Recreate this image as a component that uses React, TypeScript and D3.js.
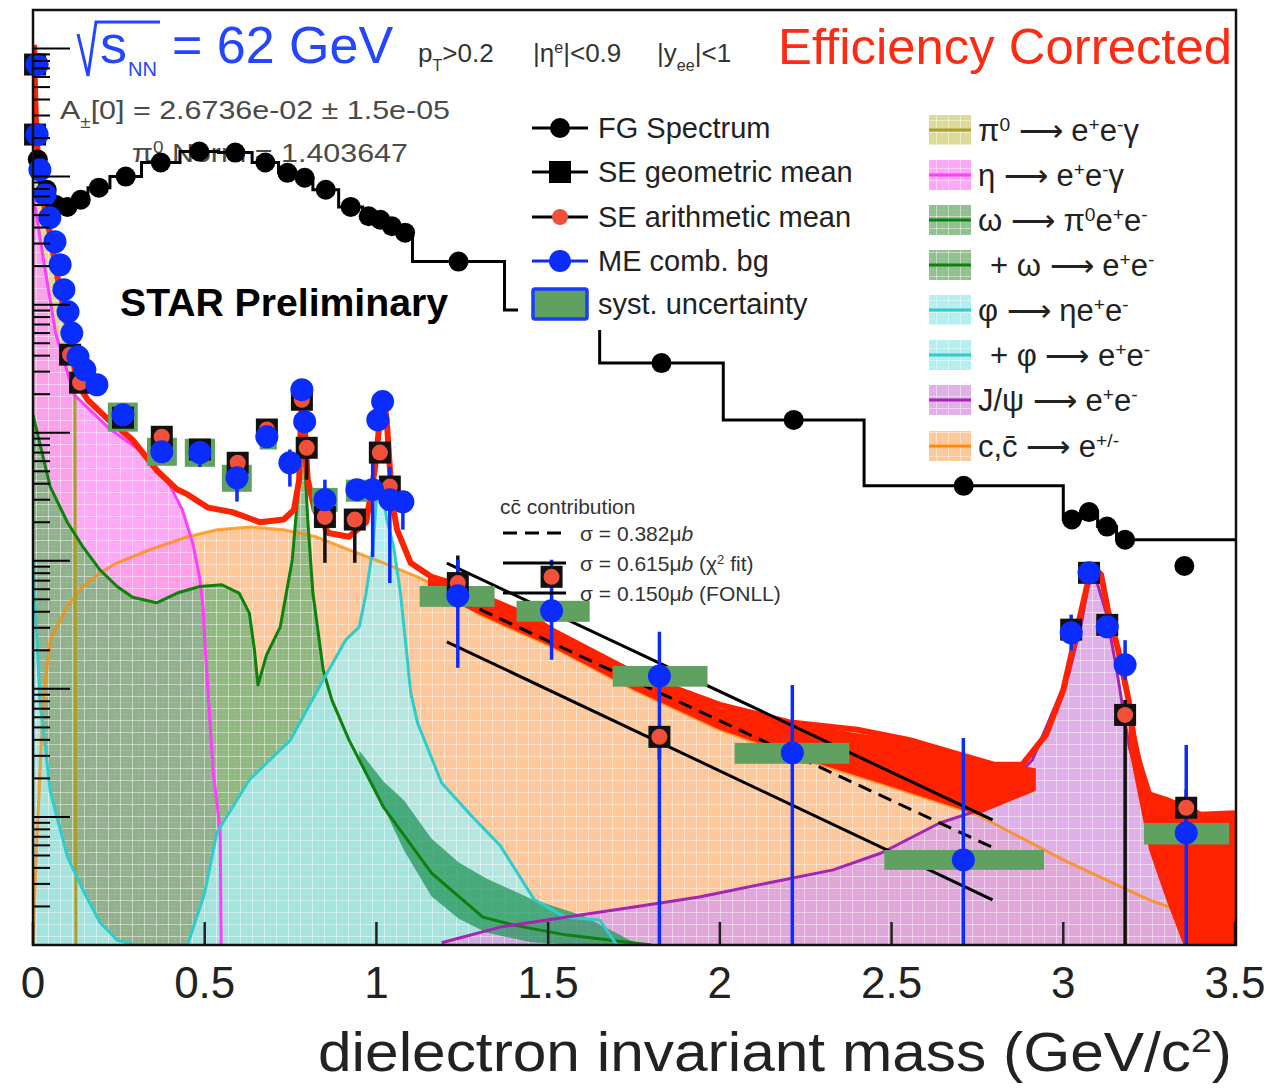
import React from 'react';
import * as d3 from 'd3';

const W = 1272;
const H = 1089;
const FONT = "'Liberation Sans', Arial, Helvetica, sans-serif";
const YMIN = 1e-8;

// ---------- data (mass in GeV/c^2, yield in arbitrary units) ----------
const fgEdges = [0, 0.028, 0.052, 0.082, 0.118, 0.16, 0.224, 0.316, 0.428, 0.54, 0.638, 0.715, 0.767, 0.815, 0.89, 0.96, 0.995, 1.028, 1.062, 1.105, 1.373, 1.65, 2.01, 2.42, 3.0, 3.05, 3.1, 3.155, 3.205, 3.5];
const fgValues = [1.36e-2, 7.9e-3, 6.0e-3, 5.8e-3, 6.6e-3, 8.2e-3, 1.0e-2, 1.29e-2, 1.57e-2, 1.54e-2, 1.29e-2, 1.07e-2, 9.8e-3, 7.9e-3, 5.8e-3, 4.9e-3, 4.6e-3, 4.1e-3, 3.65e-3, 2.17e-3, 9.1e-4, 3.5e-4, 1.26e-4, 3.85e-5, 2.1e-5, 2.4e-5, 1.85e-5, 1.46e-5, 1.46e-5];
const fgMarkers = [1.36e-2, 7.9e-3, 6.0e-3, 5.8e-3, 6.6e-3, 8.2e-3, 1.0e-2, 1.29e-2, 1.57e-2, 1.54e-2, 1.29e-2, 1.07e-2, 9.8e-3, 7.9e-3, 5.8e-3, 4.9e-3, 4.6e-3, 4.1e-3, 3.65e-3, 2.17e-3, 9.1e-4, 3.5e-4, 1.26e-4, 3.85e-5, 2.1e-5, 2.4e-5, 1.85e-5, 1.46e-5, 9.1e-6];

const totalX = [0.003, 0.008, 0.015, 0.03, 0.05, 0.07, 0.09, 0.11, 0.13, 0.16, 0.22, 0.29, 0.36, 0.42, 0.45, 0.51, 0.58, 0.62, 0.66, 0.73, 0.76, 0.775, 0.78, 0.785, 0.79, 0.8, 0.82, 0.86, 0.92, 0.97, 0.995, 1.01, 1.02, 1.03, 1.045, 1.06, 1.1, 1.16, 1.22, 1.3, 1.45, 1.6, 1.8, 2.0, 2.2, 2.4, 2.55, 2.7, 2.8, 2.88, 2.95, 3.0, 3.04, 3.07, 3.09, 3.11, 3.13, 3.16, 3.19, 3.21, 3.25, 3.3, 3.4, 3.5];
const totalY = [1.07e-1, 2.8e-2, 1.24e-2, 6.6e-3, 3.5e-3, 1.72e-3, 9.1e-4, 4.9e-4, 2.4e-4, 1.8e-4, 1.26e-4, 8.8e-5, 5.1e-5, 3.6e-5, 3.3e-5, 2.6e-5, 2.4e-5, 2.2e-5, 2.0e-5, 2.1e-5, 2.5e-5, 4.3e-5, 1.26e-4, 2.05e-4, 1.26e-4, 4.3e-5, 2.5e-5, 1.65e-5, 1.54e-5, 2.0e-5, 5.1e-5, 1.26e-4, 1.98e-4, 1.26e-4, 3.0e-5, 1.75e-5, 9.6e-6, 7.5e-6, 6.7e-6, 5.4e-6, 3.65e-6, 2.0e-6, 1.18e-6, 7.5e-7, 5.5e-7, 4.8e-7, 4.0e-7, 3.05e-7, 2.55e-7, 2.55e-7, 4.4e-7, 9.8e-7, 2.9e-6, 6.5e-6, 8.8e-6, 7.8e-6, 4.1e-6, 2.0e-6, 8.2e-7, 3.3e-7, 1.5e-7, 1.36e-7, 1.04e-7, 1.07e-7];

// noisy red band of the total at high mass
const bandAX = [1.15, 1.3, 1.5, 1.75, 2.0, 2.25, 2.5, 2.75, 2.92];
const bandAHi = [7.8e-6, 5.4e-6, 3.16e-6, 1.41e-6, 7.1e-7, 5.2e-7, 4.1e-7, 2.8e-7, 2.4e-7];
const bandALo = [6.0e-6, 3.8e-6, 2.2e-6, 9.8e-7, 4.8e-7, 2.8e-7, 1.72e-7, 1.04e-7, 1.6e-7];
const bandBX = [3.19, 3.25, 3.3, 3.35, 3.42, 3.5];
const bandBHi = [8.2e-7, 1.5e-7, 1.36e-7, 1.24e-7, 1.04e-7, 1.07e-7];
const bandBLo = [3.5e-7, 5.5e-8, 2.25e-8, 1e-8, 1e-8, 1e-8];

const pi0X = [0.003, 0.02, 0.04, 0.06, 0.08, 0.1, 0.112, 0.122, 0.125];
const pi0Y = [8.2e-2, 1.13e-2, 4.78e-3, 2.33e-3, 1.2e-3, 6.4e-4, 3.9e-4, 2.4e-4, 1e-8];

const etaX = [0.003, 0.035, 0.066, 0.12, 0.22, 0.32, 0.39, 0.435, 0.465, 0.485, 0.495, 0.5, 0.525, 0.545, 0.548];
const etaY = [6.6e-3, 1.9e-3, 6.0e-4, 1.98e-4, 1.09e-4, 7.0e-5, 4.3e-5, 2.5e-5, 1.38e-5, 7.5e-6, 4.4e-6, 2.4e-6, 2.2e-7, 7.9e-8, 1e-8];

const omegaX = [0.0, 0.05, 0.1, 0.145, 0.195, 0.245, 0.29, 0.36, 0.42, 0.485, 0.55, 0.6, 0.63, 0.645, 0.655, 0.68, 0.72, 0.755, 0.77, 0.78, 0.785, 0.79, 0.8, 0.815, 0.845, 0.87, 0.92, 1.02, 1.16, 1.31, 1.4, 1.55, 1.8];
const omegaY = [1.38e-4, 3.8e-5, 2.0e-5, 1.29e-5, 8.5e-6, 6.3e-6, 5.2e-6, 4.7e-6, 5.6e-6, 6.3e-6, 6.5e-6, 5.6e-6, 3.9e-6, 2.0e-6, 1.07e-6, 1.84e-6, 3.05e-6, 1.02e-5, 3.0e-5, 6.7e-5, 8.1e-5, 6.7e-5, 2.1e-5, 5.6e-6, 1.41e-6, 8.2e-7, 4.0e-7, 1.2e-7, 3.65e-8, 1.65e-8, 1.43e-8, 1.2e-8, 1e-8];
// statistical scatter of the omega histogram tail
const omegaNoiseX = [0.95, 1.02, 1.08, 1.16, 1.24, 1.32, 1.45, 1.6, 1.75];
const omegaNoiseHi = [3.3e-7, 1.9e-7, 1.35e-7, 6.8e-8, 4.4e-8, 3.3e-8, 2.3e-8, 1.7e-8, 1.05e-8];
const omegaNoiseLo = [2.79e-7, 1.2e-7, 5.5e-8, 2.4e-8, 1.6e-8, 1.25e-8, 1.05e-8, 1e-8, 1e-8];

const phiX = [0.0, 0.02, 0.05, 0.1, 0.145, 0.195, 0.245, 0.3, 0.45, 0.5, 0.535, 0.63, 0.75, 0.84, 0.91, 0.95, 0.97, 0.99, 1.0, 1.01, 1.02, 1.03, 1.05, 1.07, 1.1, 1.12, 1.19, 1.28, 1.36, 1.46, 1.55, 1.65, 1.7];
const phiY = [1.02e-5, 8.2e-7, 1.6e-7, 4.9e-8, 2.7e-8, 1.5e-8, 1.09e-8, 1e-8, 1e-8, 2.55e-8, 7.5e-8, 1.95e-7, 4.0e-7, 1.11e-6, 2.4e-6, 3.05e-6, 5.6e-6, 1.29e-5, 3.0e-5, 3.5e-5, 3.3e-5, 2.1e-5, 1.29e-5, 5.6e-6, 9.3e-7, 5.4e-7, 1.84e-7, 1.0e-7, 6.0e-8, 2.25e-8, 1.65e-8, 1.57e-8, 1e-8];

const jpsiX = [1.19, 1.36, 1.55, 1.75, 1.94, 2.14, 2.33, 2.47, 2.64, 2.755, 2.834, 2.91, 2.968, 3.017, 3.055, 3.075, 3.09, 3.125, 3.154, 3.192, 3.221, 3.279, 3.337, 3.375, 3.38];
const jpsiY = [1.04e-8, 1.38e-8, 1.65e-8, 1.98e-8, 2.37e-8, 3.05e-8, 3.86e-8, 5.23e-8, 8.97e-8, 1.13e-7, 1.72e-7, 2.79e-7, 6.49e-7, 1.33e-6, 3.46e-6, 7.1e-6, 8.06e-6, 3.9e-6, 1.49e-6, 3.52e-7, 1.95e-7, 5.8e-8, 2.37e-8, 1.04e-8, 1e-8];

const ccX = [0.0, 0.01, 0.03, 0.05, 0.1, 0.145, 0.195, 0.245, 0.34, 0.45, 0.535, 0.63, 0.73, 0.825, 0.92, 1.02, 1.12, 1.2, 1.3, 1.5, 1.75, 2.0, 2.25, 2.5, 2.75, 3.0, 3.25, 3.5];
const ccY = [1e-8, 5.5e-8, 8.2e-7, 2.4e-6, 4.4e-6, 6.3e-6, 8.06e-6, 9.65e-6, 1.22e-5, 1.54e-5, 1.75e-5, 1.84e-5, 1.75e-5, 1.54e-5, 1.22e-5, 9.65e-6, 7.5e-6, 5.9e-6, 3.8e-6, 2.21e-6, 9.8e-7, 4.78e-7, 2.79e-7, 1.72e-7, 1.04e-7, 4.62e-8, 2.25e-8, 1.31e-8];

// c-cbar contribution lines
const ccLineX = [1.205, 2.794];
const ccDashX = [1.242, 2.793];
const ccFit = [9.6e-6, 9.5e-8];
const ccMid = [4.95e-6, 5.8e-8];
const ccFonll = [2.33e-6, 2.25e-8];

// ME combinatorial background points (0 = no error bar)
const meX = [0.012, 0.012, 0.02, 0.035, 0.049, 0.064, 0.079, 0.09, 0.102, 0.113, 0.131, 0.151, 0.186, 0.262, 0.375, 0.486, 0.594, 0.681, 0.748, 0.783, 0.791, 0.85, 0.943, 0.989, 1.004, 1.018, 1.039, 1.077, 1.237, 1.51, 1.824, 2.211, 2.709, 3.023, 3.075, 3.128, 3.18, 3.358];
const meY = [7.5e-2, 2.13e-2, 1.13e-2, 7.24e-3, 4.78e-3, 3.1e-3, 2.05e-3, 1.31e-3, 8.8e-4, 6.0e-4, 3.92e-4, 3.1e-4, 2.37e-4, 1.38e-4, 7.1e-5, 7.0e-5, 4.45e-5, 9.3e-5, 5.83e-5, 2.17e-4, 1.22e-4, 3.0e-5, 3.59e-5, 3.59e-5, 1.26e-4, 1.75e-4, 3.0e-5, 2.89e-5, 5.33e-6, 4.07e-6, 1.26e-6, 3.16e-7, 4.62e-8, 2.74e-6, 8.06e-6, 3.05e-6, 1.54e-6, 7.5e-8];
const meErrHi = [0, 0, 0, 0, 0, 0, 0, 0, 0, 0, 0, 0, 0, 0, 0, 8.4e-5, 6.5e-5, 0, 7.4e-5, 0, 0, 4.3e-5, 0, 6.15e-5, 0, 0, 5.42e-5, 3.39e-5, 1.02e-5, 1.02e-5, 2.79e-6, 1.07e-6, 4.14e-7, 3.8e-6, 0, 0, 2.4e-6, 3.65e-7];
const meErrLo = [0, 0, 0, 0, 0, 0, 0, 0, 0, 0, 0, 0, 0, 0, 0, 5.4e-5, 2.9e-5, 0, 3.8e-5, 0, 0, 1.84e-5, 0, 1.07e-5, 0, 0, 6.7e-6, 1.75e-5, 1.46e-6, 1.69e-6, 1e-8, 1e-8, 1e-8, 2.0e-6, 0, 0, 1.18e-6, 1e-8];

// systematic boxes
const sysX0 = [0.218, 0.332, 0.442, 0.55, 0.66, 0.812, 0.911, 1.126, 1.408, 1.688, 2.043, 2.479, 3.235];
const sysX1 = [0.305, 0.419, 0.53, 0.637, 0.71, 0.887, 0.975, 1.344, 1.621, 1.964, 2.377, 2.944, 3.483];
const sysHi = [1.72e-4, 9.14e-5, 8.97e-5, 5.62e-5, 1.2e-4, 3.71e-5, 4.3e-5, 6.36e-6, 4.87e-6, 1.51e-6, 3.79e-7, 5.52e-8, 8.97e-8];
const sysLo = [1.02e-4, 5.52e-5, 5.42e-5, 3.46e-5, 7.4e-5, 2.41e-5, 2.89e-5, 4.37e-6, 3.34e-6, 1.04e-6, 2.6e-7, 3.86e-8, 6.1e-8];

// same-event points (geometric squares, arithmetic dots)
const seX = [0.006, 0.006, 0.108, 0.137, 0.262, 0.375, 0.486, 0.596, 0.681, 0.783, 0.797, 0.85, 0.937, 1.01, 1.039, 1.237, 1.51, 1.824, 3.023, 3.075, 3.128, 3.18, 3.358];
const seY = [7.5e-2, 2.13e-2, 4.07e-4, 2.46e-4, 1.31e-4, 9.3e-5, 7.4e-5, 5.83e-5, 1.06e-4, 1.81e-4, 7.63e-5, 2.2e-5, 2.1e-5, 7.0e-5, 3.8e-5, 6.7e-6, 7.5e-6, 4.22e-7, 2.9e-6, 8.06e-6, 3.16e-6, 6.26e-7, 1.18e-7];
const seErrHi = [0, 0, 0, 0, 0, 0, 0, 0, 0, 0, 8.8e-5, 3.0e-5, 2.1e-5, 0, 0, 1.1e-5, 0, 5.2e-7, 0, 0, 0, 8.2e-7, 1.63e-7];
const seErrLo = [0, 0, 0, 0, 0, 0, 0, 0, 0, 0, 4.3e-5, 9.65e-6, 9.65e-6, 0, 0, 5.0e-6, 0, 2.8e-7, 0, 0, 0, 1e-8, 7.9e-8];

const xTicks = [0, 0.5, 1, 1.5, 2, 2.5, 3, 3.5];
const xTickLabels = ['0', '0.5', '1', '1.5', '2', '2.5', '3', '3.5'];

const legend1Labels = ['FG Spectrum', 'SE geometric mean', 'SE arithmetic mean', 'ME comb. bg', 'syst. uncertainty'];

const BLUE = '#0a2cff';
const RED = '#ff2200';
const ARROW = '⟶';

const Sup = ({ t }: { t: string }) => (
  <tspan baselineShift="super" fontSize="62%">{t}</tspan>
);
const Sub = ({ t }: { t: string }) => (
  <tspan baselineShift="sub" fontSize="62%">{t}</tspan>
);

export default function App() {
  const x = d3.scaleLinear().domain([0, 3.5]).range([33, 1235]);
  const y = d3.scaleLog().domain([YMIN, 0.2]).range([945, 10]);
  const yv = (v: number) => y(Math.max(v, YMIN));
  const X0 = x(0), X1 = x(3.5) + 1, YB = y(YMIN), YT = y(0.2);

  const line = (xs: number[], ys: number[]) =>
    d3.line<number>().x((_, i) => x(xs[i])).y((v) => yv(v))(ys) || '';
  const area = (xs: number[], ys: number[]) =>
    d3.area<number>().x((_, i) => x(xs[i])).y0(YB).y1((v) => yv(v))(ys) || '';
  const band = (xs: number[], hi: number[], lo: number[]) =>
    d3.area<number>().x((_, i) => x(xs[i])).y0((_, i) => yv(lo[i])).y1((v) => yv(v))(hi) || '';

  // drawing order: back to front
  const comps = [
    { id: 'cc', xs: ccX, ys: ccY, fill: '#ffbd85', stroke: '#ff8a00', op: 0.75 },
    { id: 'pi0', xs: pi0X, ys: pi0Y, fill: '#d6d484', stroke: '#a8a02a', op: 1 },
    { id: 'eta', xs: etaX, ys: etaY, fill: '#ff96f7', stroke: '#ff3cff', op: 1 },
    { id: 'omega', xs: omegaX, ys: omegaY, fill: '#7db57b', stroke: '#0e800e', op: 1 },
    { id: 'phi', xs: phiX, ys: phiY, fill: '#a6ecec', stroke: '#2fcccc', op: 1 },
    { id: 'jpsi', xs: jpsiX, ys: jpsiY, fill: '#daa0e4', stroke: '#a424b4', op: 1 },
  ];
  const legend2 = [
    { c: 'pi0', label: <>π<Sup t="0" /> {ARROW} e<Sup t="+" />e<Sup t="-" />γ</>, dx: 0 },
    { c: 'eta', label: <>η {ARROW} e<Sup t="+" />e<Sup t="-" />γ</>, dx: 0 },
    { c: 'omega', label: <>ω {ARROW} π<Sup t="0" />e<Sup t="+" />e<Sup t="-" /></>, dx: 0 },
    { c: 'omega', label: <>+ ω {ARROW} e<Sup t="+" />e<Sup t="-" /></>, dx: 12 },
    { c: 'phi', label: <>φ {ARROW} ηe<Sup t="+" />e<Sup t="-" /></>, dx: 0 },
    { c: 'phi', label: <>+ φ {ARROW} e<Sup t="+" />e<Sup t="-" /></>, dx: 12 },
    { c: 'jpsi', label: <>J/ψ {ARROW} e<Sup t="+" />e<Sup t="-" /></>, dx: 0 },
    { c: 'cc', label: <>c,c̄ {ARROW} e<Sup t="+/-" /></>, dx: 0 },
  ];
  const compById = (id: string) => comps.find((c) => c.id === id)!;

  // FG histogram step line
  let fgPath = '';
  fgValues.forEach((v, i) => {
    const yy = yv(v);
    fgPath += (i === 0 ? `M${x(fgEdges[i])},${yy}` : `V${yy}`) + `H${x(fgEdges[i + 1])}`;
  });

  const majors = d3.range(-8, 0).map((k) => Math.pow(10, k));
  const minors: number[] = [];
  majors.forEach((m) => {
    for (let j = 2; j <= 9; j++) if (m * j <= 0.2) minors.push(m * j);
  });

  const leg1Y = [128, 172, 217, 261, 304];
  const leg2Y = [130, 175, 220, 265, 310, 355, 400, 446];

  return (
    <svg width={W} height={H} style={{ position: 'absolute', left: 0, top: 0, background: '#fff' }} fontFamily={FONT}>
      <defs>
        <clipPath id="plot">
          <rect x={X0} y={YT} width={X1 - X0} height={YB - YT} />
        </clipPath>
        {comps.map((c) => (
          <pattern key={c.id} id={'pat-' + c.id} width={12} height={12} patternUnits="userSpaceOnUse">
            <rect width={12} height={12} fill={c.fill} />
            <path d="M0,0.5H12M0.5,0V12" stroke="#fff" strokeOpacity={0.45} strokeWidth={1} />
            <path d="M0,6.5H12M6.5,0V12" stroke="#fff" strokeOpacity={0.2} strokeWidth={1} strokeDasharray="1 2" />
          </pattern>
        ))}
      </defs>
      <rect x={0} y={0} width={W} height={H} fill="#fff" />

      {/* fit info text under the data */}
      <text x={60} y={119} fontSize={26} fill="#4a4a4a" textLength={390} lengthAdjust="spacingAndGlyphs">
        A<Sub t="±" />[0] = 2.6736e-02 ± 1.5e-05
      </text>
      <text x={132} y={162} fontSize={26} fill="#4a4a4a" textLength={276} lengthAdjust="spacingAndGlyphs">
        π<Sup t="0" /> Norm = 1.403647
      </text>

      <g clipPath="url(#plot)">
        {comps.map((c) => (
          <path key={c.id} d={area(c.xs, c.ys)} fill={`url(#pat-${c.id})`} fillOpacity={0.85} />
        ))}
        <path d={band(omegaNoiseX, omegaNoiseHi, omegaNoiseLo)} fill="#23955a" fillOpacity={0.75} />
        {comps.map((c) => (
          <path key={c.id} d={line(c.xs, c.ys)} fill="none" stroke={c.stroke} strokeWidth={3} strokeOpacity={c.op} strokeLinejoin="round" />
        ))}
        <path d={band(bandAX, bandAHi, bandALo)} fill={RED} />
        <path d={band(bandBX, bandBHi, bandBLo)} fill={RED} />
        <path d={line(totalX, totalY)} fill="none" stroke={RED} strokeWidth={6} strokeLinejoin="round" />
        <path d={line(ccLineX, ccFit)} stroke="#000" strokeWidth={3} fill="none" />
        <path d={line(ccDashX, ccMid)} stroke="#000" strokeWidth={3} fill="none" strokeDasharray="14 8" />
        <path d={line(ccLineX, ccFonll)} stroke="#000" strokeWidth={3} fill="none" />
      </g>

      {/* systematic boxes */}
      {sysX0.map((x0, i) => (
        <rect key={i} x={x(x0)} y={yv(sysHi[i])} width={x(sysX1[i]) - x(x0)} height={yv(sysLo[i]) - yv(sysHi[i])} fill="#60a060" />
      ))}

      {/* FG spectrum */}
      <path d={fgPath} fill="none" stroke="#000" strokeWidth={3} />
      {fgMarkers.map((v, i) => (
        <circle key={i} cx={x((fgEdges[i] + fgEdges[i + 1]) / 2)} cy={yv(v)} r={10} fill="#000" />
      ))}

      {/* error bars */}
      {seX.map((sx, i) =>
        seErrHi[i] > 0 ? (
          <line key={i} x1={x(sx)} x2={x(sx)} y1={yv(seErrHi[i])} y2={yv(seErrLo[i])} stroke="#111" strokeWidth={3.5} />
        ) : null
      )}
      {meX.map((mx, i) =>
        meErrHi[i] > 0 ? (
          <line key={i} x1={x(mx)} x2={x(mx)} y1={yv(meErrHi[i])} y2={yv(meErrLo[i])} stroke={BLUE} strokeWidth={3.5} />
        ) : null
      )}

      {/* SE markers */}
      {seX.map((sx, i) => (
        <rect key={i} x={x(sx) - 11} y={yv(seY[i]) - 11} width={22} height={22} fill="#111" />
      ))}
      {seX.map((sx, i) => (
        <circle key={i} cx={x(sx)} cy={yv(seY[i])} r={8} fill="#f2503a" />
      ))}
      {/* ME markers */}
      {meX.map((mx, i) => (
        <circle key={i} cx={x(mx)} cy={yv(meY[i])} r={11.5} fill={BLUE} />
      ))}

      {/* legend 1 */}
      <rect x={518} y={105} width={387} height={225} fill="#fff" />
      {legend1Labels.map((lab, i) => {
        const cy = leg1Y[i];
        return (
          <g key={lab}>
            {i < 4 && <line x1={532} x2={588} y1={cy} y2={cy} stroke={i === 3 ? BLUE : '#000'} strokeWidth={3} />}
            {i === 0 && <circle cx={560} cy={cy} r={10} fill="#000" />}
            {i === 1 && <rect x={549} y={cy - 11} width={22} height={22} fill="#000" />}
            {i === 2 && <circle cx={560} cy={cy} r={8} fill="#f2503a" />}
            {i === 3 && <circle cx={560} cy={cy} r={11} fill={BLUE} />}
            {i === 4 && <rect x={533} y={cy - 15} width={54} height={30} fill="#60a060" stroke="#1a3cff" strokeWidth={3.5} rx={2} />}
            <text x={598} y={cy + 10} fontSize={29} fill="#222">{lab}</text>
          </g>
        );
      })}

      {/* legend 2 */}
      <rect x={915} y={108} width={321} height={362} fill="#fff" />
      {legend2.map((e, i) => {
        const c = compById(e.c);
        const cy = leg2Y[i];
        return (
          <g key={i}>
            <rect x={929} y={cy - 15} width={42} height={30} fill={`url(#pat-${c.id})`} fillOpacity={0.85} />
            <line x1={929} x2={971} y1={cy} y2={cy} stroke={c.stroke} strokeWidth={3} />
            <text x={978 + e.dx} y={cy + 11} fontSize={31} fill="#222">{e.label}</text>
          </g>
        );
      })}

      {/* c-cbar legend */}
      <text x={500} y={514} fontSize={21} fill="#333">cc̄ contribution</text>
      <line x1={503} x2={566} y1={533} y2={533} stroke="#000" strokeWidth={3} strokeDasharray="14 8" />
      <line x1={503} x2={566} y1={563} y2={563} stroke="#000" strokeWidth={3} />
      <line x1={503} x2={566} y1={593} y2={593} stroke="#000" strokeWidth={3} />
      <text x={580} y={541} fontSize={21} fill="#333">σ = 0.382μ<tspan fontStyle="italic">b</tspan></text>
      <text x={580} y={571} fontSize={21} fill="#333">σ = 0.615μ<tspan fontStyle="italic">b</tspan> (χ<Sup t="2" /> fit)</text>
      <text x={580} y={601} fontSize={21} fill="#333">σ = 0.150μ<tspan fontStyle="italic">b</tspan> (FONLL)</text>

      {/* headline texts */}
      <path d="M78,34 L88,76 L96,22 L160,22" fill="none" stroke="#2446ff" strokeWidth={3} />
      <text x={100} y={63} fontSize={54} fill="#2446ff">s</text>
      <text x={128} y={76} fontSize={20} fill="#2446ff">NN</text>
      <text x={172} y={63} fontSize={52} fill="#2446ff">= 62 GeV</text>
      <text x={418} y={62} fontSize={26} fill="#333">p<Sub t="T" />&gt;0.2</text>
      <text x={533} y={62} fontSize={26} fill="#333">|η<Sup t="e" />|&lt;0.9</text>
      <text x={657} y={62} fontSize={26} fill="#333">|y<Sub t="ee" />|&lt;1</text>
      <text x={778} y={64} fontSize={50} fill="#ff2a12" textLength={454} lengthAdjust="spacingAndGlyphs">Efficiency Corrected</text>
      <text x={120} y={316} fontSize={38} fontWeight="bold" fill="#000" textLength={328} lengthAdjust="spacingAndGlyphs">STAR Preliminary</text>

      {/* axes */}
      {majors.map((m) => (
        <line key={'M' + m} x1={X0} x2={X0 + 37} y1={y(m)} y2={y(m)} stroke="#000" strokeWidth={2} />
      ))}
      {minors.map((m) => (
        <line key={'m' + m} x1={X0} x2={X0 + 17} y1={y(m)} y2={y(m)} stroke="#000" strokeWidth={2} />
      ))}
      {xTicks.map((t, i) => (
        <g key={t}>
          <line x1={x(t)} x2={x(t)} y1={YB} y2={YB - 23} stroke="#222" strokeWidth={2.5} />
          <text x={x(t)} y={998} fontSize={44} fill="#222" textAnchor="middle">{xTickLabels[i]}</text>
        </g>
      ))}
      <rect x={X0} y={YT} width={X1 - X0} height={YB - YT} fill="none" stroke="#111" strokeWidth={2.5} />
      <text x={318} y={1071} fontSize={55} fill="#222" textLength={914} lengthAdjust="spacingAndGlyphs">
        dielectron invariant mass (GeV/c<Sup t="2" />)
      </text>
    </svg>
  );
}
